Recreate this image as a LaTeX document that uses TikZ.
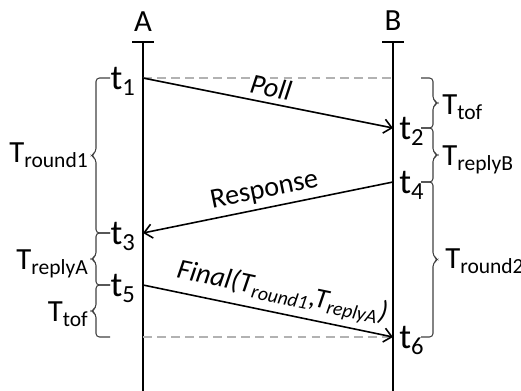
\documentclass[tikz,border=0pt]{standalone}
\usepackage{fontspec}
\setmainfont{Carlito}
\usetikzlibrary{arrows.meta}

\begin{document}
\begin{tikzpicture}[x=0.02cm,y=-0.02cm]
			\tikzstyle{every node}=[inner sep=0pt]
			\tikzstyle{lifeline}=[line width=1.1pt,{Bar[width=4.4mm]}-]
			\tikzstyle{msg}=[line width=0.9pt,-{Straight Barb[length=4.5pt,width=8pt]}]
			\tikzstyle{ref}=[gray!60,line width=0.9pt,dash pattern=on 5pt off 3pt]
			\tikzstyle{tbrace}=[black!75,line width=0.6pt,rounded corners=2pt]
			\tikzstyle{ev}=[font=\fontsize{20}{22}\selectfont]
			\tikzstyle{dur}=[font=\fontsize{17.5}{20}\selectfont]
			\tikzstyle{lbl}=[font=\fontsize{16}{18}\selectfont,sloped,above,inner sep=3pt]
			\useasboundingbox (0,0) rectangle (521,391);
			% lifelines
			\node[dur,anchor=base] (A) at (143,32) {A};
			\node[dur,anchor=base] (B) at (393,31) {B};
			\coordinate (a0) at (143,41);
			\coordinate (a1) at (143,391);
			\coordinate (b0) at (393,41);
			\coordinate (b1) at (393,391);
			\draw[lifeline] (a0) -- (a1);
			\draw[lifeline] (b0) -- (b1);
			% events
			\coordinate (t1) at (143,78);
			\coordinate (t2) at (393,128);
			\coordinate (t3) at (143,233);
			\coordinate (t4) at (393,182);
			\coordinate (t5) at (143,285);
			\coordinate (t6) at (393,337);
			\coordinate (d1) at (393,78);
			\coordinate (d6) at (143,337);
			\node[ev,anchor=base east] (lt1) at (136,90) {t\textsubscript{1}};
			\node[ev,anchor=base east] (lt3) at (136,245) {t\textsubscript{3}};
			\node[ev,anchor=base east] (lt5) at (136,297) {t\textsubscript{5}};
			\node[ev,anchor=base west] (lt2) at (399,140) {t\textsubscript{2}};
			\node[ev,anchor=base west] (lt4) at (399,194) {t\textsubscript{4}};
			\node[ev,anchor=base west] (lt6) at (399,349) {t\textsubscript{6}};
			\draw[ref] (t1) -- (d1);
			\draw[ref] (d6) -- (t6);
			% messages
			\draw[msg] (t1) -- node[lbl] (poll) {\textit{Poll}} (t2);
			\draw[msg] (t4) -- node[lbl] (resp) {Response} (t3);
			\draw[msg] (t5) -- node[lbl,pos=0.54] (final) {\textit{Final(T\textsubscript{round1},T\textsubscript{replyA})}} (t6);
			% braces
			\draw[tbrace] (110,78) -- (96,78) -- (96,152) -- (91,155.5) -- (96,159) -- (96,233) -- (110,233);
			\draw[tbrace] (110,233) -- (96,233) -- (96,256) -- (91,259) -- (96,262) -- (96,285) -- (110,285);
			\draw[tbrace] (110,285) -- (96,285) -- (96,308) -- (91,311) -- (96,314) -- (96,337) -- (110,337);
			\draw[tbrace] (421,78) -- (433,78) -- (433,100) -- (438,103) -- (433,106) -- (433,128) -- (421,128);
			\draw[tbrace] (421,128) -- (433,128) -- (433,152) -- (438,155) -- (433,158) -- (433,182) -- (421,182);
			\draw[tbrace] (421,182) -- (433,182) -- (433,256) -- (438,259.5) -- (433,263) -- (433,337) -- (421,337);
			\node[dur,anchor=base east] (round1) at (89,163) {T\textsubscript{round1}};
			\node[dur,anchor=base east] (replyA) at (89,270) {T\textsubscript{replyA}};
			\node[dur,anchor=base east] (tofA) at (89,322) {T\textsubscript{tof}};
			\node[dur,anchor=base west] (tofB) at (442,115) {T\textsubscript{tof}};
			\node[dur,anchor=base west] (replyB) at (442,166) {T\textsubscript{replyB}};
			\node[dur,anchor=base west] (round2) at (445,269) {T\textsubscript{round2}};
\end{tikzpicture}
\end{document}
